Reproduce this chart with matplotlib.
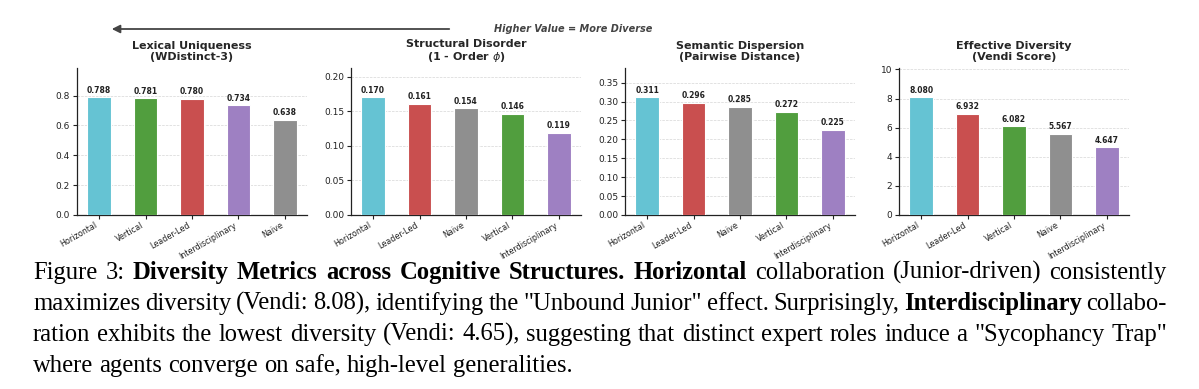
import matplotlib
matplotlib.use("Agg")
import matplotlib.pyplot as plt
import numpy as np

W, H = 1199, 389
DPI = 100

# ---------------- data ----------------
colors_map = {
    "Horizontal": "#65c3d3",
    "Vertical": "#519e3e",
    "Leader-Led": "#c94f4f",
    "Interdisciplinary": "#9e80c2",
    "Naive": "#8f8f8f",
}

titles = ["Lexical Uniqueness\n(WDistinct-3)",
          "Structural Disorder\n(1 - Order $\\phi$)",
          "Semantic Dispersion\n(Pairwise Distance)",
          "Effective Diversity\n(Vendi Score)"]

lex_cats = ["Horizontal", "Vertical", "Leader-Led", "Interdisciplinary", "Naive"]
lex_vals = [0.788, 0.781, 0.780, 0.734, 0.638]

struct_cats = ["Horizontal", "Leader-Led", "Naive", "Vertical", "Interdisciplinary"]
struct_vals = [0.170, 0.161, 0.154, 0.146, 0.119]

sem_cats = ["Horizontal", "Leader-Led", "Naive", "Vertical", "Interdisciplinary"]
sem_vals = [0.311, 0.296, 0.285, 0.272, 0.225]

vendi_cats = ["Horizontal", "Leader-Led", "Vertical", "Naive", "Interdisciplinary"]
vendi_vals = [8.080, 6.932, 6.082, 5.567, 4.647]

panels = [(lex_cats, lex_vals), (struct_cats, struct_vals),
          (sem_cats, sem_vals), (vendi_cats, vendi_vals)]

arrow_text = "Higher Value = More Diverse"

caption_lines = [
    [("Figure 3: ", False), ("Diversity Metrics across Cognitive Structures. Horizontal", True),
     (" collaboration (Junior-driven) consistently", False)],
    [("maximizes diversity (Vendi: 8.08), identifying the \"Unbound Junior\" effect. Surprisingly, ", False),
     ("Interdisciplinary", True), (" collabo-", False)],
    [("ration exhibits the lowest diversity (Vendi: 4.65), suggesting that distinct expert roles induce a \"Sycophancy Trap\"", False)],
    [("where agents converge on safe, high-level generalities.", False)],
]

# ---------------- figure ----------------
fig = plt.figure(figsize=(W / DPI, H / DPI), dpi=DPI)
fig.patch.set_facecolor("white")

lefts = [77, 351, 625, 899]
ax_w = 230
ax_top, ax_bot = 68, 215

for i, (cats, vals) in enumerate(panels):
    ax = fig.add_axes([lefts[i] / W, 1 - ax_bot / H, ax_w / W, (ax_bot - ax_top) / H])
    x = np.arange(len(cats))
    cols = [colors_map[c] for c in cats]
    ax.bar(x, vals, width=0.5, color=cols, edgecolor="white", linewidth=0.8, zorder=3)
    ax.set_ylim(0, max(vals) * 1.25)
    ax.set_xticks(x)
    ax.set_xticklabels(cats, rotation=30, ha="right", fontsize=5.8)
    ax.tick_params(axis="y", labelsize=6.5, length=3, width=0.8, pad=2, colors="#222222")
    ax.tick_params(axis="x", length=3, width=0.8, pad=1, colors="#222222")
    for sp in ["top", "right"]:
        ax.spines[sp].set_visible(False)
    for sp in ["left", "bottom"]:
        ax.spines[sp].set_linewidth(0.9)
        ax.spines[sp].set_color("#222222")
    ax.yaxis.grid(True, linestyle="--", linewidth=0.5, color="#cccccc", alpha=0.8, zorder=0)
    ax.set_axisbelow(True)
    ax.set_title(titles[i], fontsize=8, fontweight="bold", color="#262626", pad=6, linespacing=1.1)
    for xi, v in zip(x, vals):
        ax.annotate(f"{v:.3f}", (xi, v), xytext=(0, 2), textcoords="offset points",
                    ha="center", va="bottom", fontsize=5.5, fontweight="bold", color="#222222")

# arrow + label
fig.add_artist(matplotlib.patches.FancyArrowPatch(
    (452 / W, 1 - 29 / H), (109 / W, 1 - 29 / H), transform=fig.transFigure,
    arrowstyle="-|>", mutation_scale=12, linewidth=1.3, color="#444444"))
fig.text(573 / W, 1 - 29 / H, arrow_text, ha="center", va="center", fontsize=7,
         fontweight="bold", fontstyle="italic", color="#444444")

# ---------------- caption (justified) ----------------
fig.canvas.draw()
r = fig.canvas.get_renderer()
SERIF = "Liberation Serif"


def tokens(line):
    toks = []
    for seg, bold in line:
        for wd in seg.split(" "):
            if wd:
                toks.append((wd, bold))
    return toks


def measure(s, bold, fs):
    t = fig.text(0, 0, s, fontsize=fs, family=SERIF, fontweight="bold" if bold else "normal")
    w = t.get_window_extent(r).width
    t.remove()
    return w


x0, x1 = 33, 1167
L = x1 - x0
fs_test = 10.0
sp_test = measure("a a", False, fs_test) - 2 * measure("a", False, fs_test)
t0 = tokens(caption_lines[0])
nat = sum(measure(w_, b, fs_test) for w_, b in t0) + (len(t0) - 1) * sp_test
fs = fs_test * (L * 0.985) / nat

baselines = [279, 310, 341, 372]
for li, line in enumerate(caption_lines):
    toks = tokens(line)
    widths = [measure(w_, b, fs) for w_, b in toks]
    if li < len(caption_lines) - 1:
        gap = (L - sum(widths)) / (len(toks) - 1)
    else:
        gap = measure("a a", False, fs) - 2 * measure("a", False, fs)
    xc = x0
    for (wd, b), wdt in zip(toks, widths):
        fig.text(xc / W, 1 - baselines[li] / H, wd, fontsize=fs, family=SERIF,
                 fontweight="bold" if b else "normal", ha="left", va="baseline", color="black")
        xc += wdt + gap

fig.savefig("out.png", dpi=DPI, facecolor="white")
